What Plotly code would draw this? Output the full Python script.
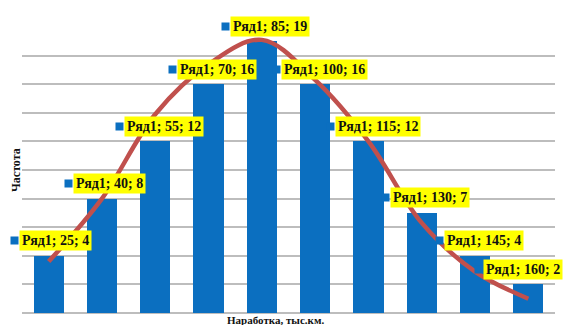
import plotly.graph_objects as go

# Mileage bins (thousand km) and observed frequencies
mileage = [25, 40, 55, 70, 85, 100, 115, 130, 145, 160]
frequency = [4, 8, 12, 16, 19, 16, 12, 7, 4, 2]
# Smoothed theoretical curve evaluated at the same bins
curve = [3.6, 8.0, 13.9, 17.4, 19.1, 16.3, 12.0, 6.3, 2.9, 1.0]
series_name = "Ряд1"

BAR_BLUE = "#0b6fc0"
CURVE_RED = "#c0504d"
GRID = "#bdbdbd"
SERIF = "Liberation Serif, Times New Roman, serif"

W, H = 568, 325
M = dict(l=22, r=13, t=27, b=12)
X_RANGE = [17.5, 167.5]


def to_px(xv):
    """Horizontal pixel position of a data value inside the figure."""
    span = W - M["l"] - M["r"]
    return M["l"] + (xv - X_RANGE[0]) / (X_RANGE[1] - X_RANGE[0]) * span


fig = go.Figure()
fig.add_trace(go.Bar(x=mileage, y=frequency, width=8.5, marker_color=BAR_BLUE,
                     marker_line_width=0, showlegend=False, hoverinfo="skip"))
fig.add_trace(go.Scatter(x=mileage, y=curve, mode="lines",
                         line=dict(color=CURVE_RED, width=4.5, shape="spline", smoothing=1.0),
                         showlegend=False, hoverinfo="skip"))

annotations = []
KEY, GAP = 7, 2
for x, y in zip(mileage, frequency):
    text = f"{series_name}; {x}; {y}"
    box_w = 4.5 * len(text) + 30          # approximate label box width
    group_w = KEY + GAP + box_w
    cx = to_px(x)
    left = cx + 6 - group_w / 2           # key + label centred over the bar
    right = left + group_w
    if right > W - 1:                     # keep the label inside the chart
        left -= right - (W - 1)
    box_left = left + KEY + GAP
    annotations.append(dict(
        x=x, y=y, xref="x", yref="y", text=f"<b>{text}</b>",
        showarrow=False, xanchor="left", yanchor="middle",
        xshift=box_left - cx, yshift=15,
        bgcolor="#ffff00", borderpad=2,
        font=dict(family=SERIF, size=14, color="#111111"),
    ))
    # legend key square in front of the label
    annotations.append(dict(
        x=x, y=y, xref="x", yref="y", text=" ", showarrow=False,
        xanchor="left", yanchor="middle", xshift=left - cx, yshift=15,
        width=KEY, height=KEY, borderpad=0, bgcolor=BAR_BLUE,
        font=dict(size=4),
    ))

annotations.append(dict(
    text="<b>Наработка, тыс.км.</b>", xref="paper", yref="paper",
    x=0.475, y=0, yshift=-7, xanchor="center", yanchor="middle", showarrow=False,
    font=dict(family=SERIF, size=11, color="#111111"),
))
annotations.append(dict(
    text="<b>Частота</b>", xref="paper", yref="paper", textangle=-90,
    x=0, xshift=-6, y=0.5, xanchor="center", yanchor="middle", showarrow=False,
    font=dict(family=SERIF, size=12, color="#111111"),
))

fig.update_layout(
    width=W, height=H,
    margin=M,
    paper_bgcolor="white", plot_bgcolor="white",
    annotations=annotations,
    bargap=0,
    xaxis=dict(range=X_RANGE, showticklabels=False, showgrid=False,
               zeroline=False, showline=False, ticks=""),
    yaxis=dict(range=[0, 20], dtick=2, showticklabels=False, showgrid=True,
               gridcolor=GRID, gridwidth=1.5, zeroline=True, zerolinecolor=GRID,
               zerolinewidth=1.5, showline=False, ticks=""),
)

fig.write_html("out.html")
